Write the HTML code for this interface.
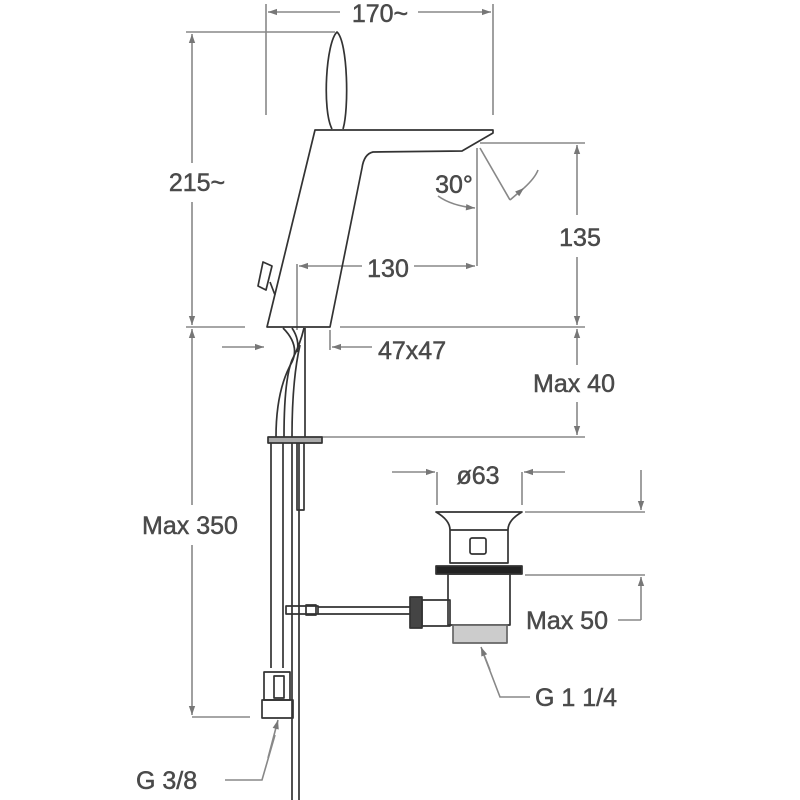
<!DOCTYPE html>
<html><head><style>body{margin:0;background:#fff}svg{display:block}</style></head><body>
<svg width="800" height="800" viewBox="0 0 800 800" xmlns="http://www.w3.org/2000/svg">
<defs>
<marker id="a" viewBox="0 0 10 10" refX="10" refY="5" markerWidth="16" markerHeight="9" markerUnits="userSpaceOnUse" orient="auto-start-reverse"><path d="M0 1.5L10 5L0 8.5z" fill="#777"/></marker>
</defs>
<g stroke="#888" stroke-width="1.6" fill="none">
<line x1="266" y1="4" x2="266" y2="115"/><line x1="493" y1="4" x2="493" y2="115"/>
<line x1="268" y1="12" x2="340" y2="12" marker-start="url(#a)"/><line x1="418" y1="12" x2="491" y2="12" marker-end="url(#a)"/>
<line x1="186" y1="32" x2="335" y2="32"/>
<line x1="192" y1="34" x2="192" y2="163" marker-start="url(#a)"/><line x1="192" y1="202" x2="192" y2="325" marker-end="url(#a)"/>
<line x1="186" y1="327" x2="245" y2="327"/><line x1="340" y1="327" x2="585" y2="327"/>
<line x1="192" y1="329" x2="192" y2="505" marker-start="url(#a)"/><line x1="192" y1="545" x2="192" y2="715" marker-end="url(#a)"/>
<line x1="192" y1="717" x2="250" y2="717"/>
<line x1="480" y1="143" x2="585" y2="143"/>
<line x1="577" y1="145" x2="577" y2="215" marker-start="url(#a)"/><line x1="577" y1="257" x2="577" y2="325" marker-end="url(#a)"/>
<line x1="577" y1="329" x2="577" y2="365" marker-start="url(#a)"/><line x1="577" y1="402" x2="577" y2="435" marker-end="url(#a)"/>
<line x1="322" y1="437" x2="585" y2="437"/>
<line x1="477" y1="148" x2="477" y2="266"/>
<line x1="480" y1="148" x2="510" y2="200"/><line x1="510" y1="200" x2="524" y2="188" marker-end="url(#a)"/><path d="M524 188 Q535 178 538 170"/>
<path d="M438 196 Q452 206 475 208" marker-end="url(#a)"/>
<line x1="297" y1="264" x2="297" y2="330"/>
<line x1="299" y1="266" x2="362" y2="266" marker-start="url(#a)"/><line x1="414" y1="266" x2="475" y2="266" marker-end="url(#a)"/>
<line x1="222" y1="347" x2="264" y2="347" marker-end="url(#a)"/>
<line x1="330" y1="330" x2="330" y2="350"/><line x1="372" y1="347" x2="332" y2="347" marker-end="url(#a)"/>
<line x1="437" y1="472" x2="437" y2="505"/><line x1="522" y1="472" x2="522" y2="505"/>
<line x1="392" y1="472" x2="435" y2="472" marker-end="url(#a)"/><line x1="565" y1="472" x2="524" y2="472" marker-end="url(#a)"/>
<line x1="641" y1="470" x2="641" y2="510" marker-end="url(#a)"/>
<line x1="525" y1="512" x2="645" y2="512"/>
<line x1="525" y1="575" x2="645" y2="575"/>
<line x1="641" y1="620" x2="641" y2="577" marker-end="url(#a)"/><line x1="618" y1="620" x2="641" y2="620"/>
<polyline points="530,697 500,697 482,650"/><line x1="490" y1="670" x2="481" y2="647" marker-end="url(#a)"/>
<polyline points="225,780 262,780 275,735"/><line x1="268" y1="758" x2="278" y2="720" marker-end="url(#a)"/>
</g>
<g stroke="#333" stroke-width="1.7" fill="none" stroke-linejoin="round">
<path d="M332 129 C322 110 326 42 337 32 C348 42 349 110 343 129"/>
<path d="M315 130 L493 130 L493 133 L462 151 L373 152 Q364 154 362 168 L330 327 L267 327 Z"/>
<path d="M263 262 L272 266 L266 290 L258 286 Z"/><line x1="270" y1="282" x2="275" y2="295"/>
<path d="M283 328 Q300 345 292 362 Q276 390 276 437"/>
<path d="M292 328 Q300 340 297 352"/>
<path d="M304 328 Q300 345 292 360 Q284 380 284 437"/>
<path d="M300 345 Q292 380 292 437"/><path d="M305 328 L305 437"/>
<line x1="271" y1="443" x2="271" y2="668"/><line x1="283" y1="443" x2="283" y2="668"/>
<line x1="292" y1="443" x2="292" y2="800"/><line x1="299" y1="443" x2="299" y2="800"/>
<rect x="297" y="443" width="7" height="67"/>
<rect x="268" y="437" width="54" height="6" fill="#aaa"/>
<rect x="264" y="672" width="26" height="28"/><rect x="274" y="676" width="10" height="22"/>
<rect x="262" y="700" width="31" height="18"/>
<rect x="286" y="606" width="32" height="8"/><rect x="306" y="605" width="10" height="10"/>
<line x1="318" y1="607" x2="410" y2="607"/><line x1="318" y1="614" x2="410" y2="614"/>
<rect x="410" y="597" width="12" height="31" fill="#444"/><rect x="422" y="600" width="28" height="26"/>
<path d="M436 512 L522 512 Q508 520 508 530 L508 563 L450 563 L450 530 Q450 520 436 512 Z"/>
<line x1="450" y1="530" x2="508" y2="530"/>
<rect x="470" y="538" width="16" height="16" rx="2"/>
<rect x="436" y="566" width="86" height="8" fill="#222"/>
<rect x="448" y="574" width="62" height="51"/>
<rect x="453" y="625" width="54" height="18" fill="#ccc" stroke="#666"/>
</g>
<g font-family="Liberation Sans, sans-serif" font-size="25" fill="#4a4a4a" stroke="#4a4a4a" stroke-width="0.5">
<text x="380" y="22" text-anchor="middle">170~</text>
<text x="197" y="191" text-anchor="middle">215~</text>
<text x="454" y="193" text-anchor="middle">30°</text>
<text x="580" y="246" text-anchor="middle">135</text>
<text x="388" y="277" text-anchor="middle">130</text>
<text x="378" y="359">47x47</text>
<text x="533" y="392">Max 40</text>
<text x="190" y="534" text-anchor="middle">Max 350</text>
<text x="478" y="484" text-anchor="middle">ø63</text>
<text x="526" y="629">Max 50</text>
<text x="535" y="706">G 1 1/4</text>
<text x="136" y="789">G 3/8</text>
</g>
</svg>
</body></html>
